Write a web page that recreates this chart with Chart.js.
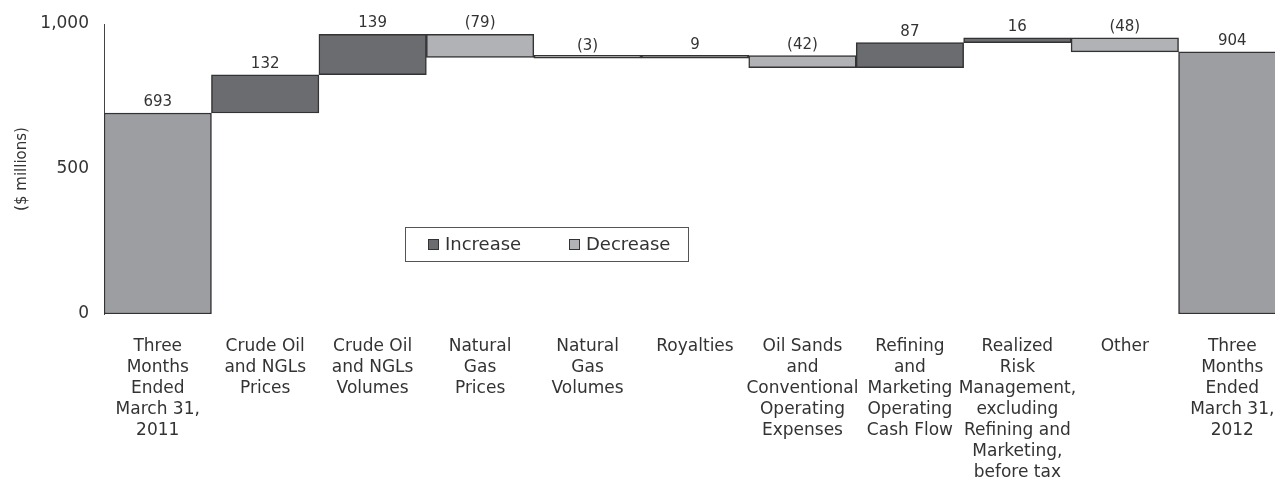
<!DOCTYPE html>
<html><head><meta charset="utf-8">
<script src="https://cdn.jsdelivr.net/npm/chart.js@4"></script>
<style>
html,body{margin:0;padding:0;overflow:hidden;background:#fff;width:1275px;height:479px}
#wrap{position:absolute;left:0;top:0;width:1286px;height:479px}
</style></head>
<body><div id="wrap"><canvas id="c"></canvas></div>
<script>
const categories = [
  ["Three","Months","Ended","March 31,","2011"],
  ["Crude Oil","and NGLs","Prices"],
  ["Crude Oil","and NGLs","Volumes"],
  ["Natural","Gas","Prices"],
  ["Natural","Gas","Volumes"],
  ["Royalties"],
  ["Oil Sands","and","Conventional","Operating","Expenses"],
  ["Refining","and","Marketing","Operating","Cash Flow"],
  ["Realized","Risk","Management,","excluding","Refining and","Marketing,","before tax"],
  ["Other"],
  ["Three","Months","Ended","March 31,","2012"]
];
const values = [693, 132, 139, -79, -3, 9, -42, 87, 16, -48, 904];
const kinds = ["total","change","change","change","change","change","change","change","change","change","total"];
const yTicks = [0, 500, 1000];
const legendLabels = ["Increase", "Decrease"];

const totalColor = "#9d9ea2", incColor = "#6b6c70", decColor = "#b1b2b5";
const FONT = "'DejaVu Sans', sans-serif";

// floating ranges for the waterfall
let run = 0;
const ranges = values.map((v, i) => {
  if (kinds[i] === "total") { run = v; return [0, v]; }
  const s = run; run += v; return [s, run];
});
const colors = values.map((v, i) => kinds[i] === "total" ? totalColor : (v >= 0 ? incColor : decColor));
const valueText = values.map((v, i) => kinds[i] === "total" || v >= 0 ? String(v) : "(" + Math.abs(v) + ")");

const labelPlugin = {
  id: "labels",
  afterDatasetsDraw(chart) {
    const ctx = chart.ctx, y = chart.scales.y, meta = chart.getDatasetMeta(0);
    ctx.save();
    ctx.font = "15px " + FONT;
    ctx.fillStyle = "#333";
    ctx.textAlign = "center";
    ctx.textBaseline = "alphabetic";
    meta.data.forEach((bar, i) => {
      const top = Math.max(ranges[i][0], ranges[i][1]);
      ctx.fillText(valueText[i], bar.x, y.getPixelForValue(top) - 7);
    });
    // legend
    const bx = 405, by = 227, bw = 283, bh = 34;
    ctx.fillStyle = "#fff";
    ctx.fillRect(bx, by, bw, bh);
    ctx.strokeStyle = "#555";
    ctx.lineWidth = 1;
    ctx.strokeRect(bx + 0.5, by + 0.5, bw, bh);
    ctx.font = "18px " + FONT;
    ctx.textAlign = "left";
    ctx.textBaseline = "middle";
    const items = [{x: 428, c: incColor}, {x: 569, c: decColor}];
    items.forEach((it, k) => {
      ctx.fillStyle = it.c;
      ctx.fillRect(it.x, by + 12, 11, 11);
      ctx.strokeStyle = "#333";
      ctx.strokeRect(it.x + 0.5, by + 12.5, 10, 10);
      ctx.fillStyle = "#333";
      ctx.fillText(legendLabels[k], it.x + 17, by + bh / 2 + 1);
    });
    ctx.restore();
  }
};

new Chart(document.getElementById("c"), {
  type: "bar",
  data: {
    labels: categories,
    datasets: [{
      data: ranges,
      backgroundColor: colors,
      borderColor: "#333",
      borderWidth: 1.5,
      borderSkipped: false,
      minBarLength: 3,
      barPercentage: 1,
      categoryPercentage: 1
    }]
  },
  options: {
    responsive: true,
    maintainAspectRatio: false,
    animation: false,
    layout: { padding: { top: 24, left: 0, right: 0, bottom: 0 } },
    plugins: { legend: { display: false }, tooltip: { enabled: false } },
    scales: {
      x: {
        grid: { display: false, drawTicks: false },
        border: { display: false },
        ticks: {
          color: "#333",
          font: { family: FONT, size: 17, lineHeight: "21px" },
          padding: 22,
          maxRotation: 0,
          autoSkip: false
        },
        afterFit(s) { s.height = 479 - 314; s.paddingLeft = 0; s.paddingRight = 0; }
      },
      y: {
        min: 0, max: 1000,
        afterBuildTicks(s) { s.ticks = yTicks.map(v => ({ value: v })); },
        grid: { display: false, drawTicks: false },
        border: { display: true, color: "#444", width: 1 },
        ticks: {
          color: "#333",
          font: { family: FONT, size: 17 },
          padding: 15,
          callback: v => v.toLocaleString("en-US")
        },
        title: {
          display: true,
          text: "($ millions)",
          color: "#333",
          font: { family: FONT, size: 15 },
          padding: { top: 13, bottom: 0 }
        },
        afterFit(s) { s.width = 104; s.paddingTop = 0; s.paddingBottom = 0; }
      }
    }
  },
  plugins: [labelPlugin]
});
</script>
</body></html>
